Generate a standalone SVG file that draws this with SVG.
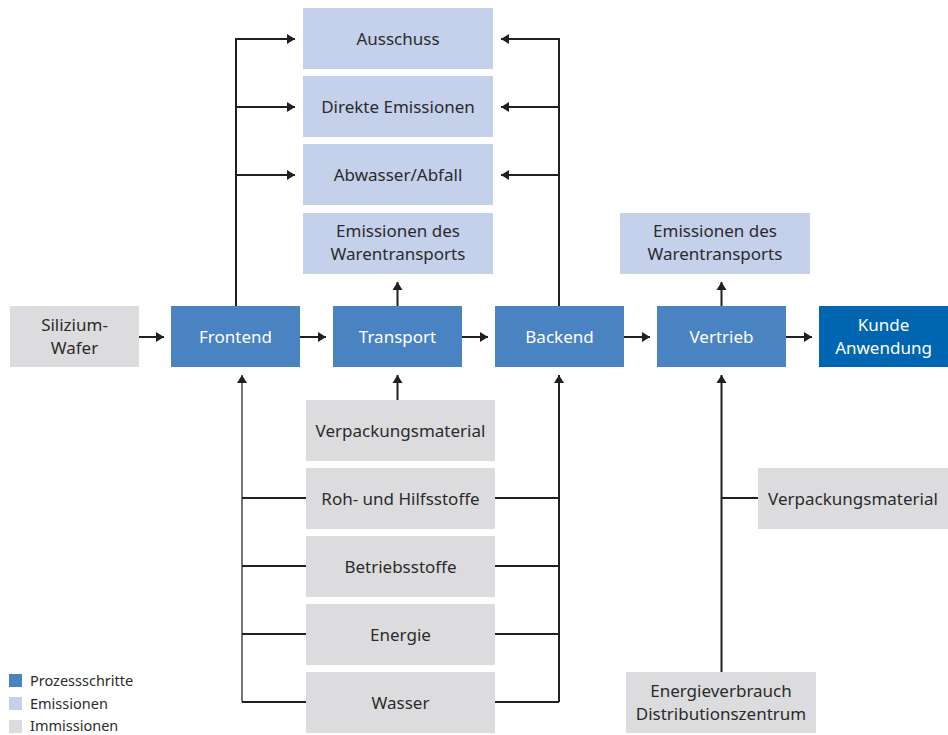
<svg xmlns="http://www.w3.org/2000/svg" width="948" height="735" viewBox="0 0 948 735">
<defs>
<style>
.p{fill:#4a83c2}
.k{fill:#0066b2}
.e{fill:#c5d1eb}
.i{fill:#dcdcde}
text{font-family:"Noto Sans","Open Sans",sans-serif;font-size:17px;text-anchor:middle}
.d{fill:#2b2b2b}
.w{fill:#ffffff}
.lg{font-size:14.5px;text-anchor:start;fill:#2b2b2b}
.c{fill:none;stroke:#231f20;stroke-width:2}
</style>
<marker id="ah" markerUnits="userSpaceOnUse" markerWidth="10" markerHeight="12" refX="8" refY="6" orient="auto">
<path d="M0,1 L8,6 L0,11 Z" fill="#231f20"/>
</marker>
</defs>
<rect width="948" height="735" fill="#ffffff"/>

<g id="connectors">
<path class="c" d="M236,306 V39 H295" marker-end="url(#ah)"/>
<path class="c" d="M236,107 H295" marker-end="url(#ah)"/>
<path class="c" d="M236,175 H295" marker-end="url(#ah)"/>
<path class="c" d="M559,306 V39 H501" marker-end="url(#ah)"/>
<path class="c" d="M559,107 H501" marker-end="url(#ah)"/>
<path class="c" d="M559,175 H501" marker-end="url(#ah)"/>
<path class="c" d="M139,337 H164" marker-end="url(#ah)"/>
<path class="c" d="M300,337 H326" marker-end="url(#ah)"/>
<path class="c" d="M462,337 H488" marker-end="url(#ah)"/>
<path class="c" d="M624,337 H650" marker-end="url(#ah)"/>
<path class="c" d="M786,337 H812" marker-end="url(#ah)"/>
<path class="c" d="M397.5,306 V282" marker-end="url(#ah)"/>
<path class="c" d="M721.5,306 V282" marker-end="url(#ah)"/>
<path class="c" d="M397.5,400 V375" marker-end="url(#ah)"/>
<path class="c" d="M242,702 V375" marker-end="url(#ah)" style="stroke:#555;stroke-width:1.6"/>
<path class="c" d="M242,498 H306 M242,566 H306 M242,634 H306 M242,702 H306"/>
<path class="c" d="M559,702 V375" marker-end="url(#ah)"/>
<path class="c" d="M495,498 H559 M495,566 H559 M495,634 H559 M495,702 H559"/>
<path class="c" d="M721.5,672 V375" marker-end="url(#ah)"/>
<path class="c" d="M721.5,498 H758"/>
</g>

<g id="ausschuss"><rect class="e" x="303" y="8" width="190" height="61"/><text class="d" x="398" y="44.5">Ausschuss</text></g>
<g id="direkte-emissionen"><rect class="e" x="303" y="76" width="190" height="61"/><text class="d" x="398" y="112.5">Direkte Emissionen</text></g>
<g id="abwasser"><rect class="e" x="303" y="144" width="190" height="61"/><text class="d" x="398" y="180.5">Abwasser/Abfall</text></g>
<g id="emissionen-warentransport-1"><rect class="e" x="303" y="213" width="190" height="61"/><text class="d" x="398" y="237">Emissionen des</text><text class="d" x="398" y="260">Warentransports</text></g>
<g id="emissionen-warentransport-2"><rect class="e" x="620" y="213" width="190" height="61"/><text class="d" x="715" y="237">Emissionen des</text><text class="d" x="715" y="260">Warentransports</text></g>

<g id="silizium-wafer"><rect class="i" x="10" y="306" width="129" height="61"/><text class="d" x="74.5" y="331">Silizium-</text><text class="d" x="74.5" y="354">Wafer</text></g>
<g id="frontend"><rect class="p" x="171" y="306" width="129" height="61"/><text class="w" x="235.5" y="342.5">Frontend</text></g>
<g id="transport"><rect class="p" x="333" y="306" width="129" height="61"/><text class="w" x="397.5" y="342.5">Transport</text></g>
<g id="backend"><rect class="p" x="495" y="306" width="129" height="61"/><text class="w" x="559.5" y="342.5">Backend</text></g>
<g id="vertrieb"><rect class="p" x="657" y="306" width="129" height="61"/><text class="w" x="721.5" y="342.5">Vertrieb</text></g>
<g id="kunde"><rect class="k" x="819" y="306" width="129" height="61"/><text class="w" x="883.5" y="331">Kunde</text><text class="w" x="883.5" y="354">Anwendung</text></g>

<g id="verpackungsmaterial-1"><rect class="i" x="306" y="400" width="189" height="61"/><text class="d" x="400.5" y="436.5">Verpackungsmaterial</text></g>
<g id="roh-hilfsstoffe"><rect class="i" x="306" y="468" width="189" height="61"/><text class="d" x="400.5" y="504.5">Roh- und Hilfsstoffe</text></g>
<g id="betriebsstoffe"><rect class="i" x="306" y="536" width="189" height="61"/><text class="d" x="400.5" y="572.5">Betriebsstoffe</text></g>
<g id="energie"><rect class="i" x="306" y="604" width="189" height="61"/><text class="d" x="400.5" y="640.5">Energie</text></g>
<g id="wasser"><rect class="i" x="306" y="672" width="189" height="61"/><text class="d" x="400.5" y="708.5">Wasser</text></g>

<g id="verpackungsmaterial-2"><rect class="i" x="758" y="468" width="190" height="61"/><text class="d" x="853" y="504.5">Verpackungsmaterial</text></g>
<g id="energieverbrauch"><rect class="i" x="626" y="672" width="190" height="61"/><text class="d" x="721" y="697">Energieverbrauch</text><text class="d" x="721" y="720">Distributionszentrum</text></g>

<g id="legend">
<rect class="p" x="9" y="674" width="13" height="13"/><text class="lg" x="30" y="686">Prozessschritte</text>
<rect class="e" x="9" y="697" width="13" height="13"/><text class="lg" x="30" y="709">Emissionen</text>
<rect class="i" x="9" y="720" width="13" height="13"/><text class="lg" x="30" y="731">Immissionen</text>
</g>
</svg>
